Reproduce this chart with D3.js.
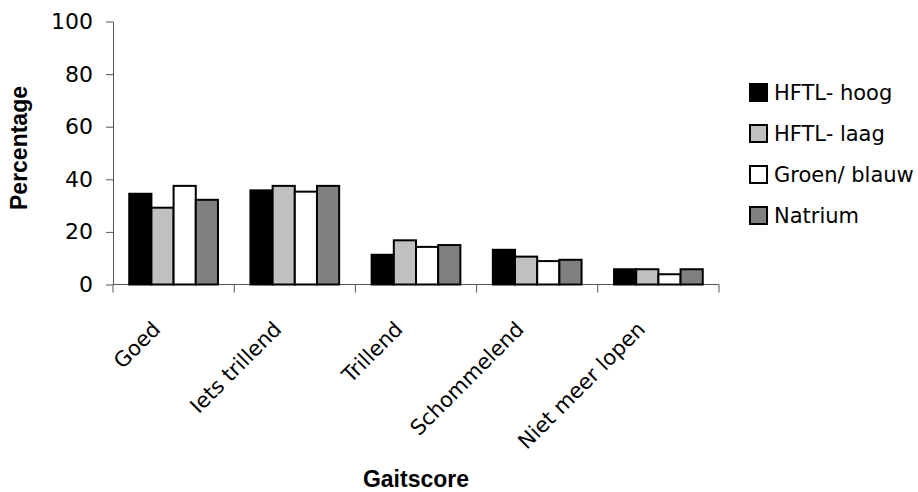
<!DOCTYPE html>
<html>
<head>
<meta charset="utf-8">
<script src="https://cdn.jsdelivr.net/npm/d3@7"></script>
<style>
  html, body { margin: 0; padding: 0; background: #fff; }
  svg { display: block; }
</style>
</head>
<body>
<svg id="chart" width="918" height="492"></svg>
<script>
const categories = ["Goed", "Iets trillend", "Trillend", "Schommelend", "Niet meer lopen"];
const seriesNames = ["HFTL- hoog", "HFTL- laag", "Groen/ blauw", "Natrium"];
const hftlHoog   = [34.5, 35.8, 11.3, 13.2, 5.8];
const hftlLaag   = [29.2, 37.5, 16.8, 10.6, 5.8];
const groenBlauw = [37.5, 35.3, 14.3, 8.9, 3.9];
const natrium    = [32.2, 37.5, 15.0, 9.4, 5.8];
const yTicks = [0, 20, 40, 60, 80, 100];
const seriesColors = ["#000000", "#c0c0c0", "#ffffff", "#808080"];

const seriesValues = [hftlHoog, hftlLaag, groenBlauw, natrium];
const rows = categories.map((c, i) => ({
  cat: c,
  vals: seriesNames.map((s, j) => ({ s, j, v: seriesValues[j][i] }))
}));

const svg = d3.select("#chart");
const mLeft = 113, mRight = 719, mTop = 21.5, mBottom = 284.5;

const x0 = d3.scaleBand().domain(categories).range([mLeft, mRight]).padding(0);
const bw = x0.bandwidth();
const x1 = d3.scaleBand().domain(seriesNames).range([bw * 0.134, bw * 0.866]).padding(0);
const y = d3.scaleLinear().domain([0, 100]).range([mBottom, mTop]);

const axisColor = "#555";
const tickFont = "'DejaVu Sans', Verdana, sans-serif";

// Y axis
const yAxis = svg.append("g").attr("transform", `translate(${mLeft},0)`)
  .call(d3.axisLeft(y).tickValues(yTicks).tickSize(7).tickPadding(13).tickSizeOuter(0));
yAxis.select(".domain").attr("stroke", axisColor);
yAxis.selectAll(".tick line").attr("stroke", axisColor);
yAxis.selectAll(".tick text").attr("font-family", tickFont).attr("font-size", 22).attr("fill", "#000");

// X axis baseline and category boundary ticks
const xg = svg.append("g");
xg.append("line").attr("x1", mLeft).attr("x2", mRight).attr("y1", y(0)).attr("y2", y(0)).attr("stroke", axisColor);
const bounds = categories.map(c => x0(c)).concat([x0(categories[categories.length - 1]) + bw]);
xg.selectAll("line.bt").data(bounds).join("line").attr("class", "bt")
  .attr("x1", d => d).attr("x2", d => d).attr("y1", y(0)).attr("y2", y(0) + 8).attr("stroke", axisColor);

// Bars
const groups = svg.append("g").selectAll("g").data(rows).join("g")
  .attr("transform", d => `translate(${x0(d.cat)},0)`);
groups.selectAll("rect").data(d => d.vals).join("rect")
  .attr("x", d => x1(d.s))
  .attr("y", d => y(d.v))
  .attr("width", x1.bandwidth())
  .attr("height", d => y(0) - y(d.v))
  .attr("fill", d => seriesColors[d.j])
  .attr("stroke", "#000")
  .attr("stroke-width", 2);

// X labels rotated
svg.append("g").selectAll("text").data(categories).join("text")
  .attr("transform", d => `translate(${x0(d) + bw / 2 - 12},${y(0) + 46}) rotate(-45)`)
  .attr("text-anchor", "end")
  .attr("font-family", tickFont).attr("font-size", 21).attr("fill", "#000")
  .text(d => d);

// Axis titles
svg.append("text")
  .attr("transform", `translate(27,${(mTop + mBottom) / 2 - 5}) rotate(-90)`)
  .attr("text-anchor", "middle")
  .attr("font-family", "'Liberation Sans', Arial, sans-serif").attr("font-weight", "bold").attr("font-size", 23)
  .text("Percentage");
svg.append("text")
  .attr("x", (mLeft + mRight) / 2).attr("y", 487)
  .attr("text-anchor", "middle")
  .attr("font-family", "'Liberation Sans', Arial, sans-serif").attr("font-weight", "bold").attr("font-size", 23)
  .text("Gaitscore");

// Legend
const lg = svg.append("g").attr("transform", "translate(750,92.5)");
const li = lg.selectAll("g").data(seriesNames).join("g")
  .attr("transform", (d, i) => `translate(0,${i * 41})`);
li.append("rect").attr("x", 0).attr("y", -8.5).attr("width", 17).attr("height", 17)
  .attr("fill", (d, i) => seriesColors[i]).attr("stroke", "#000").attr("stroke-width", 2);
li.append("text").attr("x", 24).attr("y", 0).attr("dy", "0.36em")
  .attr("font-family", tickFont).attr("font-size", 21).attr("fill", "#000")
  .text(d => d);
</script>
</body>
</html>
